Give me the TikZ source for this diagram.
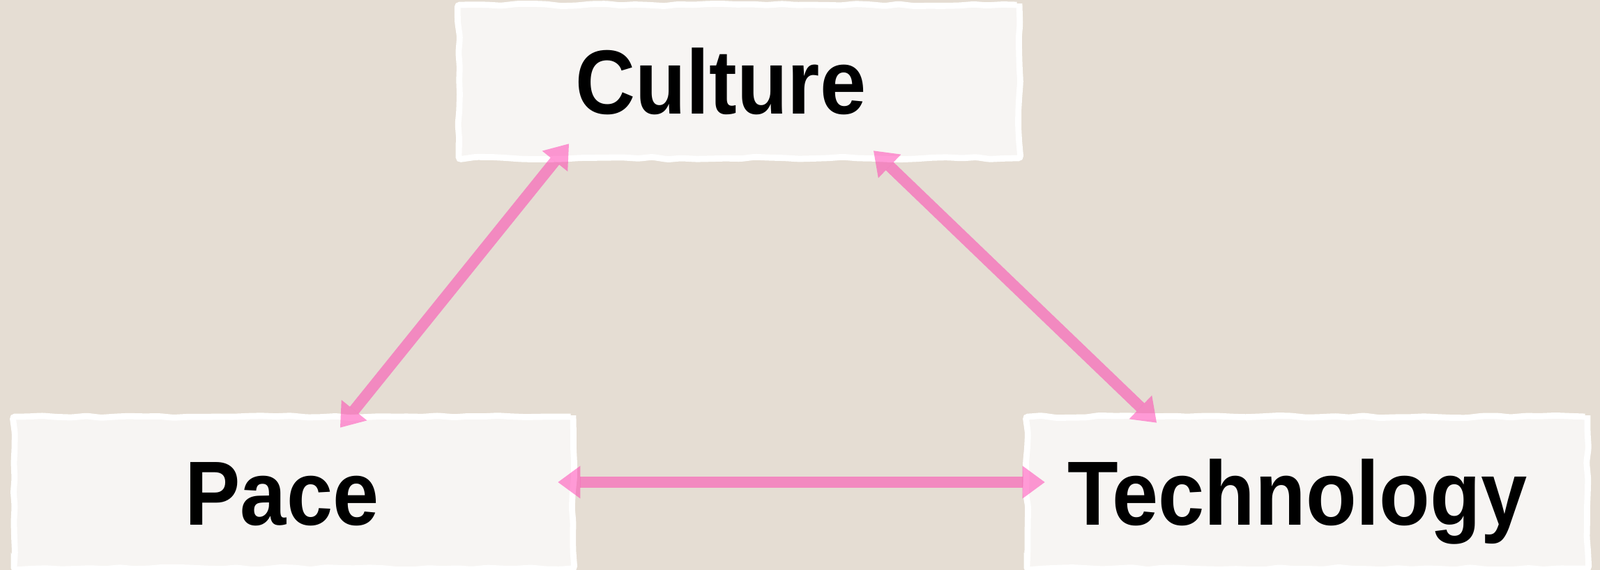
\documentclass[tikz,border=0pt]{standalone}
\usepackage{fontspec}
\newfontfamily\paperfont{Liberation Sans}[FakeStretch=0.91]
\usetikzlibrary{arrows.meta, decorations.pathmorphing}

\definecolor{wallbg}{RGB}{229,221,211}
\definecolor{paperbg}{RGB}{247,245,243}
\definecolor{linkpink}{RGB}{255,55,175}

\begin{document}
\begin{tikzpicture}[
paper/.style={fill=paperbg, draw=white, line width=2.5pt, rounded corners=1pt,
  decorate, decoration={random steps, segment length=6pt, amplitude=0.5pt},
  minimum height=2.18cm, inner sep=0pt, text height=0.94cm, text depth=0pt,
  font=\paperfont\bfseries\fontsize{37.2}{40}\selectfont},
link/.style={draw=linkpink, line width=0.16cm, opacity=0.5,
  {Triangle[length=0.32cm, width=0.47cm, line width=0pt]}-{Triangle[length=0.32cm, width=0.47cm, line width=0pt]}}
]

\fill[wallbg] (0, 0) rectangle (22.95, 8.18);
\useasboundingbox (0, 0) rectangle (22.95, 8.18);


\node[paper, minimum width=8.04cm, minimum height=2.2cm] (culture) at (10.60, 7.01) {\hspace*{-0.52cm}Culture};
\node[paper, minimum width=8.02cm] (pace) at (4.21, 1.11) {\hspace*{-0.33cm}Pace};
\node[paper, minimum width=8.04cm] (tech) at (18.75, 1.11) {\hspace*{-0.28cm}Technology};


\draw[link] ([shift={(-2.44, 0.25)}]culture.south) -- ([shift={(0.67, -0.2)}]pace.north);
\draw[link] ([shift={(1.93, 0.15)}]culture.south) -- ([shift={(-2.16, -0.13)}]tech.north);
\draw[link] ([shift={(-0.26, 0.15)}]pace.east) -- ([shift={(0.30, 0.15)}]tech.west);

\end{tikzpicture}
\end{document}
